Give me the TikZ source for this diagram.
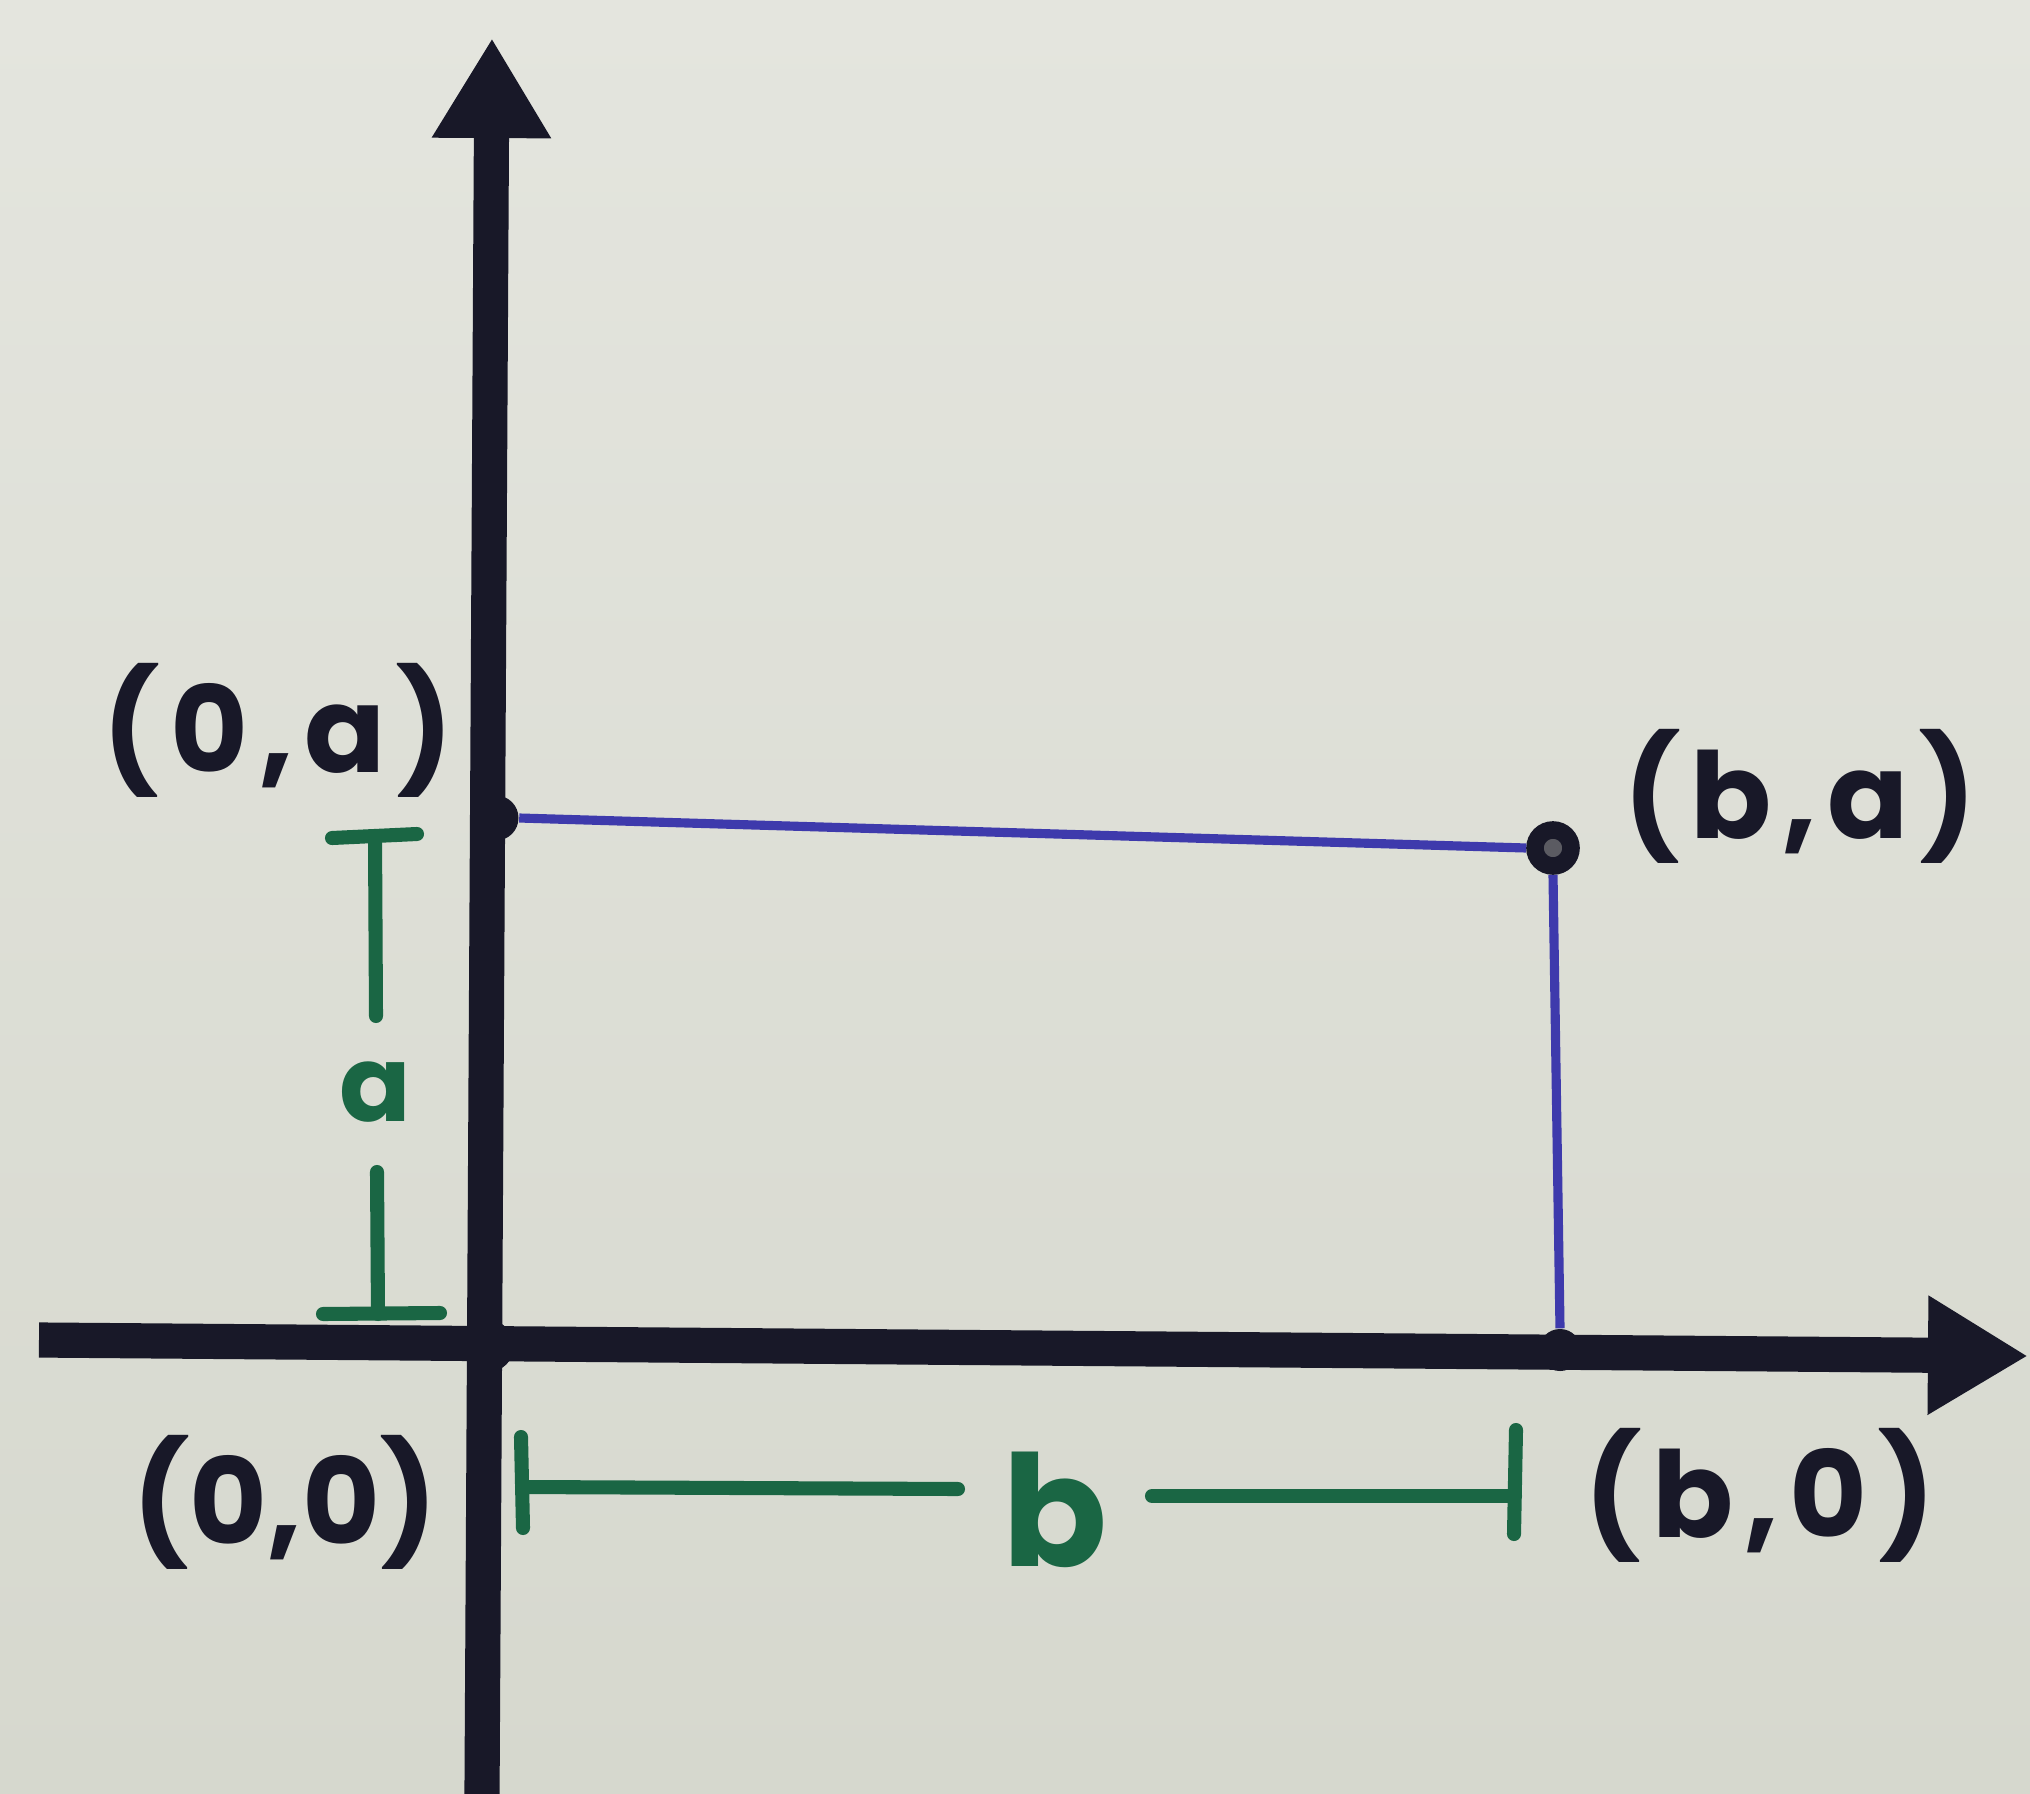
\documentclass[tikz,border=0pt]{standalone}
\usepackage{fontspec}
\setmainfont{Poppins}
\usetikzlibrary{arrows.meta}
\definecolor{paper}{RGB}{214,216,206}
\definecolor{paperlight}{RGB}{228,229,222}
\definecolor{ink}{RGB}{24,24,40}
\definecolor{penblue}{RGB}{62,58,172}
\definecolor{pengreen}{RGB}{26,102,68}
\tikzset{
  axis/.style={draw=ink, line width=10pt, -{Triangle[length=1.0cm,width=1.12cm]}},
  rectline/.style={draw=penblue, line width=2.6pt},
  dimline/.style={draw=pengreen, line width=4pt, line cap=round},
  dotpt/.style={circle, fill=ink, inner sep=0pt, minimum size=#1},
  lbl/.style={text=ink, font=\fontsize{34}{40}\selectfont\bfseries},
  dimlbl/.style={text=pengreen, font=\fontsize{#1}{#1}\selectfont\bfseries}
}
\newcommand{\gp}{\kern0.09em}
\begin{document}
\begin{tikzpicture}[x=0.01cm,y=-0.01cm]
\shade[top color=paperlight, bottom color=paper] (0,0) rectangle (2030,1794);
\useasboundingbox (0,0) rectangle (2030,1794);
% axes
\coordinate (ybot) at (482,1794);
\coordinate (ytop) at (492,38);
\coordinate (xleft) at (39,1340);
\coordinate (xright) at (2028,1356);
\draw[axis] (ybot) -- (ytop);
\draw[axis] (xleft) -- (xright);
% points
\node[dotpt=0.52cm] (O) at (488,1346) {};
\node[dotpt=0.45cm] (A) at (496,818) {};
\node[dotpt=0.36cm, draw=ink, fill=ink!65!paper, line width=5pt] (BA) at (1553,848) {};
\node[dotpt=0.42cm] (B) at (1560,1350) {};
% rectangle sides
\draw[rectline] (A.east) -- (BA.west);
\draw[rectline] (BA.south) -- (B.north);
% labels
\node[lbl] (lA) at (278,730) {(\gp0\gp,\gp a\gp)};
\node[lbl] (lBA) at (1800,796) {(\gp b\gp,\gp a\gp)};
\node[lbl] (lO) at (285,1502) {(0,0)};
\node[lbl] (lB) at (1760,1495) {(\gp b\gp,\gp0\gp)};
% vertical dimension a
\node[dimlbl=30] (da) at (375,1092) {a};
\coordinate (atop) at (375,836);
\coordinate (aend) at (376,1016);
\coordinate (astart) at (377,1172);
\coordinate (abot) at (378,1314);
\draw[dimline] (332,838) -- (417,834);
\draw[dimline] (atop) -- (aend);
\draw[dimline] (astart) -- (abot);
\draw[dimline] (323,1314) -- (440,1313);
% horizontal dimension b
\node[dimlbl=44] (db) at (1055,1510) {b};
\coordinate (bl) at (522,1487);
\coordinate (blend) at (958,1489);
\coordinate (brstart) at (1152,1496);
\coordinate (br) at (1515,1496);
\draw[dimline] (521,1437) -- (523,1528);
\draw[dimline] (1516,1430) -- (1514,1534);
\draw[dimline] (bl) -- (blend);
\draw[dimline] (brstart) -- (br);
\end{tikzpicture}
\end{document}
